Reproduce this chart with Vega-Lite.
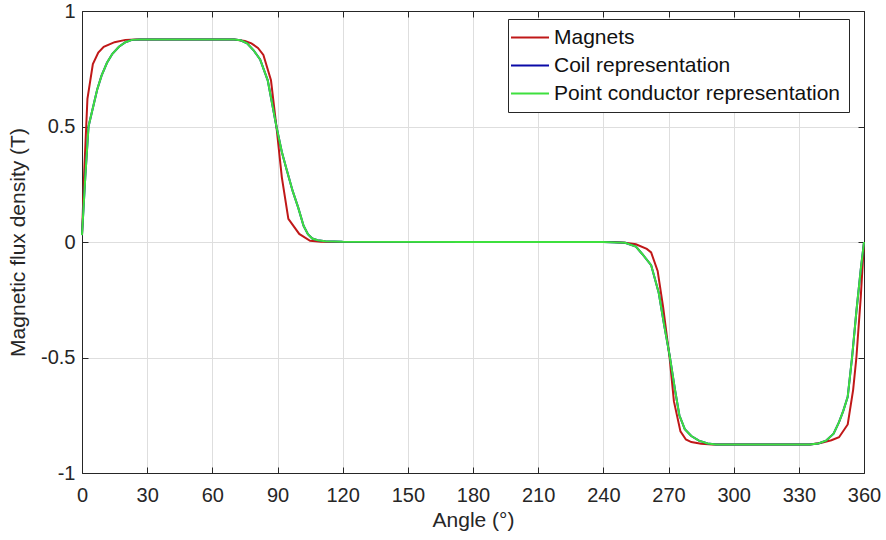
{
  "$schema": "https://vega.github.io/schema/vega-lite/v6.json",
  "width": 782,
  "height": 462,
  "autosize": {"type": "none"},
  "padding": {"left": 82, "top": 11, "right": 22, "bottom": 67},
  "background": "white",
  "config": {
    "view": {"stroke": null},
    "font": "Liberation Sans",
    "axis": {
      "domainColor": "#262626",
      "domainWidth": 1,
      "tickColor": "#262626",
      "tickWidth": 1,
      "labelColor": "#262626",
      "titleColor": "#262626",
      "labelFont": "Liberation Sans",
      "titleFont": "Liberation Sans",
      "labelFontSize": 20,
      "titleFontSize": 21,
      "titleFontWeight": "normal",
      "gridColor": "#dedede",
      "gridWidth": 1
    }
  },
  "datasets": {
    "curves": [
      {"angle": 0, "B": 0.03, "series": "Magnets"},
      {"angle": 1, "B": 0.3, "series": "Magnets"},
      {"angle": 2.5, "B": 0.62, "series": "Magnets"},
      {"angle": 5, "B": 0.77, "series": "Magnets"},
      {"angle": 7.5, "B": 0.82, "series": "Magnets"},
      {"angle": 10, "B": 0.845, "series": "Magnets"},
      {"angle": 15, "B": 0.865, "series": "Magnets"},
      {"angle": 20, "B": 0.875, "series": "Magnets"},
      {"angle": 25, "B": 0.877, "series": "Magnets"},
      {"angle": 35, "B": 0.877, "series": "Magnets"},
      {"angle": 45, "B": 0.877, "series": "Magnets"},
      {"angle": 55, "B": 0.877, "series": "Magnets"},
      {"angle": 65, "B": 0.877, "series": "Magnets"},
      {"angle": 70, "B": 0.877, "series": "Magnets"},
      {"angle": 75, "B": 0.87, "series": "Magnets"},
      {"angle": 78, "B": 0.86, "series": "Magnets"},
      {"angle": 81, "B": 0.84, "series": "Magnets"},
      {"angle": 83.5, "B": 0.81, "series": "Magnets"},
      {"angle": 87, "B": 0.7, "series": "Magnets"},
      {"angle": 89.5, "B": 0.5, "series": "Magnets"},
      {"angle": 92, "B": 0.28, "series": "Magnets"},
      {"angle": 95, "B": 0.1, "series": "Magnets"},
      {"angle": 100, "B": 0.035, "series": "Magnets"},
      {"angle": 105, "B": 0.005, "series": "Magnets"},
      {"angle": 110, "B": 0.001, "series": "Magnets"},
      {"angle": 120, "B": 0, "series": "Magnets"},
      {"angle": 180, "B": 0, "series": "Magnets"},
      {"angle": 240, "B": 0, "series": "Magnets"},
      {"angle": 245, "B": 0, "series": "Magnets"},
      {"angle": 250, "B": -0.003, "series": "Magnets"},
      {"angle": 255, "B": -0.01, "series": "Magnets"},
      {"angle": 260, "B": -0.03, "series": "Magnets"},
      {"angle": 262, "B": -0.045, "series": "Magnets"},
      {"angle": 265, "B": -0.125, "series": "Magnets"},
      {"angle": 267.5, "B": -0.28, "series": "Magnets"},
      {"angle": 270.5, "B": -0.5, "series": "Magnets"},
      {"angle": 272.5, "B": -0.69, "series": "Magnets"},
      {"angle": 275.5, "B": -0.82, "series": "Magnets"},
      {"angle": 278, "B": -0.855, "series": "Magnets"},
      {"angle": 280.5, "B": -0.866, "series": "Magnets"},
      {"angle": 285, "B": -0.873, "series": "Magnets"},
      {"angle": 290, "B": -0.877, "series": "Magnets"},
      {"angle": 300, "B": -0.877, "series": "Magnets"},
      {"angle": 310, "B": -0.877, "series": "Magnets"},
      {"angle": 320, "B": -0.877, "series": "Magnets"},
      {"angle": 335, "B": -0.877, "series": "Magnets"},
      {"angle": 340, "B": -0.87, "series": "Magnets"},
      {"angle": 345, "B": -0.858, "series": "Magnets"},
      {"angle": 348.5, "B": -0.845, "series": "Magnets"},
      {"angle": 352.5, "B": -0.79, "series": "Magnets"},
      {"angle": 355, "B": -0.64, "series": "Magnets"},
      {"angle": 356.5, "B": -0.5, "series": "Magnets"},
      {"angle": 358.5, "B": -0.24, "series": "Magnets"},
      {"angle": 360, "B": 0, "series": "Magnets"},

      {"angle": 0, "B": 0.03, "series": "Coil representation"},
      {"angle": 1.5, "B": 0.28, "series": "Coil representation"},
      {"angle": 3, "B": 0.5, "series": "Coil representation"},
      {"angle": 5, "B": 0.58, "series": "Coil representation"},
      {"angle": 7, "B": 0.66, "series": "Coil representation"},
      {"angle": 9, "B": 0.72, "series": "Coil representation"},
      {"angle": 11.5, "B": 0.776, "series": "Coil representation"},
      {"angle": 14, "B": 0.815, "series": "Coil representation"},
      {"angle": 17, "B": 0.845, "series": "Coil representation"},
      {"angle": 20, "B": 0.865, "series": "Coil representation"},
      {"angle": 23, "B": 0.875, "series": "Coil representation"},
      {"angle": 27, "B": 0.877, "series": "Coil representation"},
      {"angle": 45, "B": 0.877, "series": "Coil representation"},
      {"angle": 70, "B": 0.877, "series": "Coil representation"},
      {"angle": 73, "B": 0.873, "series": "Coil representation"},
      {"angle": 76, "B": 0.86, "series": "Coil representation"},
      {"angle": 79, "B": 0.83, "series": "Coil representation"},
      {"angle": 82, "B": 0.79, "series": "Coil representation"},
      {"angle": 85.5, "B": 0.7, "series": "Coil representation"},
      {"angle": 89.5, "B": 0.5, "series": "Coil representation"},
      {"angle": 92, "B": 0.39, "series": "Coil representation"},
      {"angle": 94, "B": 0.32, "series": "Coil representation"},
      {"angle": 97, "B": 0.22, "series": "Coil representation"},
      {"angle": 99.5, "B": 0.15, "series": "Coil representation"},
      {"angle": 102, "B": 0.07, "series": "Coil representation"},
      {"angle": 104, "B": 0.034, "series": "Coil representation"},
      {"angle": 106, "B": 0.015, "series": "Coil representation"},
      {"angle": 108.5, "B": 0.008, "series": "Coil representation"},
      {"angle": 112, "B": 0.003, "series": "Coil representation"},
      {"angle": 120, "B": 0.001, "series": "Coil representation"},
      {"angle": 180, "B": 0, "series": "Coil representation"},
      {"angle": 240, "B": 0, "series": "Coil representation"},
      {"angle": 250, "B": -0.003, "series": "Coil representation"},
      {"angle": 255, "B": -0.02, "series": "Coil representation"},
      {"angle": 258, "B": -0.053, "series": "Coil representation"},
      {"angle": 262, "B": -0.1, "series": "Coil representation"},
      {"angle": 265.5, "B": -0.22, "series": "Coil representation"},
      {"angle": 268, "B": -0.36, "series": "Coil representation"},
      {"angle": 270.5, "B": -0.49, "series": "Coil representation"},
      {"angle": 273, "B": -0.64, "series": "Coil representation"},
      {"angle": 275, "B": -0.75, "series": "Coil representation"},
      {"angle": 277.5, "B": -0.81, "series": "Coil representation"},
      {"angle": 280.5, "B": -0.84, "series": "Coil representation"},
      {"angle": 284, "B": -0.86, "series": "Coil representation"},
      {"angle": 288, "B": -0.872, "series": "Coil representation"},
      {"angle": 292, "B": -0.877, "series": "Coil representation"},
      {"angle": 310, "B": -0.877, "series": "Coil representation"},
      {"angle": 335, "B": -0.877, "series": "Coil representation"},
      {"angle": 339, "B": -0.872, "series": "Coil representation"},
      {"angle": 342.5, "B": -0.86, "series": "Coil representation"},
      {"angle": 346, "B": -0.83, "series": "Coil representation"},
      {"angle": 348.5, "B": -0.78, "series": "Coil representation"},
      {"angle": 350.5, "B": -0.73, "series": "Coil representation"},
      {"angle": 352.5, "B": -0.67, "series": "Coil representation"},
      {"angle": 354.5, "B": -0.5, "series": "Coil representation"},
      {"angle": 356.5, "B": -0.3, "series": "Coil representation"},
      {"angle": 358.5, "B": -0.12, "series": "Coil representation"},
      {"angle": 360, "B": 0, "series": "Coil representation"},

      {"angle": 0, "B": 0.03, "series": "Point conductor representation"},
      {"angle": 1.5, "B": 0.28, "series": "Point conductor representation"},
      {"angle": 3, "B": 0.5, "series": "Point conductor representation"},
      {"angle": 5, "B": 0.58, "series": "Point conductor representation"},
      {"angle": 7, "B": 0.66, "series": "Point conductor representation"},
      {"angle": 9, "B": 0.72, "series": "Point conductor representation"},
      {"angle": 11.5, "B": 0.776, "series": "Point conductor representation"},
      {"angle": 14, "B": 0.815, "series": "Point conductor representation"},
      {"angle": 17, "B": 0.845, "series": "Point conductor representation"},
      {"angle": 20, "B": 0.865, "series": "Point conductor representation"},
      {"angle": 23, "B": 0.875, "series": "Point conductor representation"},
      {"angle": 27, "B": 0.877, "series": "Point conductor representation"},
      {"angle": 45, "B": 0.877, "series": "Point conductor representation"},
      {"angle": 70, "B": 0.877, "series": "Point conductor representation"},
      {"angle": 73, "B": 0.873, "series": "Point conductor representation"},
      {"angle": 76, "B": 0.86, "series": "Point conductor representation"},
      {"angle": 79, "B": 0.83, "series": "Point conductor representation"},
      {"angle": 82, "B": 0.79, "series": "Point conductor representation"},
      {"angle": 85.5, "B": 0.7, "series": "Point conductor representation"},
      {"angle": 89.5, "B": 0.5, "series": "Point conductor representation"},
      {"angle": 92, "B": 0.39, "series": "Point conductor representation"},
      {"angle": 94, "B": 0.32, "series": "Point conductor representation"},
      {"angle": 97, "B": 0.22, "series": "Point conductor representation"},
      {"angle": 99.5, "B": 0.15, "series": "Point conductor representation"},
      {"angle": 102, "B": 0.07, "series": "Point conductor representation"},
      {"angle": 104, "B": 0.034, "series": "Point conductor representation"},
      {"angle": 106, "B": 0.015, "series": "Point conductor representation"},
      {"angle": 108.5, "B": 0.008, "series": "Point conductor representation"},
      {"angle": 112, "B": 0.003, "series": "Point conductor representation"},
      {"angle": 120, "B": 0.001, "series": "Point conductor representation"},
      {"angle": 180, "B": 0, "series": "Point conductor representation"},
      {"angle": 240, "B": 0, "series": "Point conductor representation"},
      {"angle": 250, "B": -0.003, "series": "Point conductor representation"},
      {"angle": 255, "B": -0.02, "series": "Point conductor representation"},
      {"angle": 258, "B": -0.053, "series": "Point conductor representation"},
      {"angle": 262, "B": -0.1, "series": "Point conductor representation"},
      {"angle": 265.5, "B": -0.22, "series": "Point conductor representation"},
      {"angle": 268, "B": -0.36, "series": "Point conductor representation"},
      {"angle": 270.5, "B": -0.49, "series": "Point conductor representation"},
      {"angle": 273, "B": -0.64, "series": "Point conductor representation"},
      {"angle": 275, "B": -0.75, "series": "Point conductor representation"},
      {"angle": 277.5, "B": -0.81, "series": "Point conductor representation"},
      {"angle": 280.5, "B": -0.84, "series": "Point conductor representation"},
      {"angle": 284, "B": -0.86, "series": "Point conductor representation"},
      {"angle": 288, "B": -0.872, "series": "Point conductor representation"},
      {"angle": 292, "B": -0.877, "series": "Point conductor representation"},
      {"angle": 310, "B": -0.877, "series": "Point conductor representation"},
      {"angle": 335, "B": -0.877, "series": "Point conductor representation"},
      {"angle": 339, "B": -0.872, "series": "Point conductor representation"},
      {"angle": 342.5, "B": -0.86, "series": "Point conductor representation"},
      {"angle": 346, "B": -0.83, "series": "Point conductor representation"},
      {"angle": 348.5, "B": -0.78, "series": "Point conductor representation"},
      {"angle": 350.5, "B": -0.73, "series": "Point conductor representation"},
      {"angle": 352.5, "B": -0.67, "series": "Point conductor representation"},
      {"angle": 354.5, "B": -0.5, "series": "Point conductor representation"},
      {"angle": 356.5, "B": -0.3, "series": "Point conductor representation"},
      {"angle": 358.5, "B": -0.12, "series": "Point conductor representation"},
      {"angle": 360, "B": 0, "series": "Point conductor representation"}
    ]
  },
  "data": {"name": "curves"},
  "layer": [
    {
      "transform": [{"filter": "datum.series === 'Magnets'"}],
      "mark": {"type": "line", "strokeWidth": 2},
      "encoding": {
        "x": {
          "field": "angle", "type": "quantitative",
          "scale": {"domain": [0, 360], "nice": false, "zero": false},
          "axis": {
            "orient": "bottom", "values": [0, 30, 60, 90, 120, 150, 180, 210, 240, 270, 300, 330, 360],
            "title": "Angle (°)", "grid": true, "tickSize": -6, "labelPadding": 18,
            "titlePadding": 4, "labelFlush": false
          }
        },
        "y": {
          "field": "B", "type": "quantitative",
          "scale": {"domain": [-1, 1], "nice": false},
          "axis": {
            "orient": "left", "values": [-1, -0.5, 0, 0.5, 1],
            "title": "Magnetic flux density (T)", "grid": true, "tickSize": -6,
            "labelPadding": 13, "titlePadding": 12, "labelFlush": false,
            "labelExpr": "'' + datum.value"
          }
        },
        "color": {
          "field": "series", "type": "nominal",
          "scale": {
            "domain": ["Magnets", "Coil representation", "Point conductor representation"],
            "range": ["#c01818", "#0a0aa8", "#3ee03e"]
          },
          "legend": {
            "orient": "none", "legendX": 426, "legendY": 8, "title": null,
            "strokeColor": "#262626", "fillColor": "white", "padding": 8,
            "symbolType": "M-1.63,0H2.37", "symbolSize": 361, "symbolStrokeWidth": 2,
            "labelFontSize": 21, "labelFont": "Liberation Sans", "labelColor": "#111111",
            "labelOffset": 17, "rowPadding": 6, "labelLimit": 500
          }
        }
      }
    },
    {
      "transform": [{"filter": "datum.series === 'Coil representation'"}],
      "mark": {"type": "line", "strokeWidth": 2},
      "encoding": {
        "x": {"field": "angle", "type": "quantitative", "axis": null},
        "y": {"field": "B", "type": "quantitative", "axis": null},
        "color": {"field": "series", "type": "nominal"}
      }
    },
    {
      "transform": [{"filter": "datum.series === 'Point conductor representation'"}],
      "mark": {"type": "line", "strokeWidth": 2},
      "encoding": {
        "x": {
          "field": "angle", "type": "quantitative",
          "axis": {"orient": "top", "values": [0, 30, 60, 90, 120, 150, 180, 210, 240, 270, 300, 330, 360], "labels": false, "title": null, "grid": false, "tickSize": -6}
        },
        "y": {
          "field": "B", "type": "quantitative",
          "axis": {"orient": "right", "values": [-1, -0.5, 0, 0.5, 1], "labels": false, "title": null, "grid": false, "tickSize": -6}
        },
        "color": {"field": "series", "type": "nominal"}
      }
    }
  ],
  "resolve": {"axis": {"x": "independent", "y": "independent"}}
}
